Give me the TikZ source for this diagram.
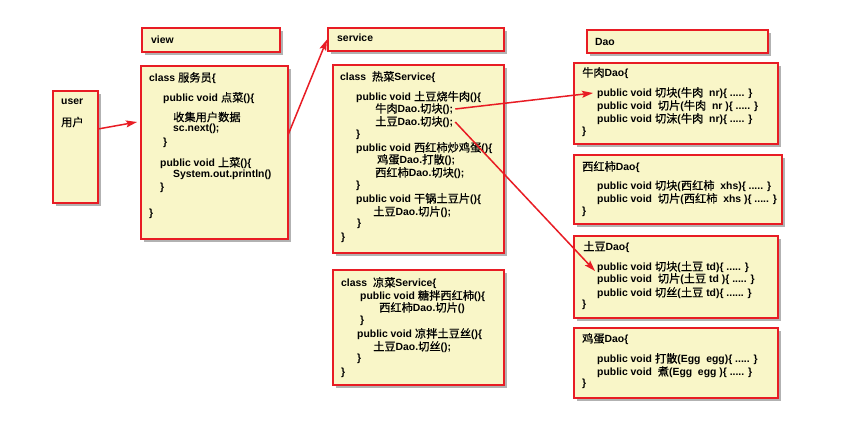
\documentclass[tikz,border=0pt]{standalone}
\usepackage{fontspec}
\setmainfont{Liberation Sans}
\newfontfamily\cjk{Noto Sans CJK SC}[Scale=1.08,FakeBold=0.6]
\usetikzlibrary{arrows.meta,shadows}
\newcommand\zh[1]{{\cjk\mdseries #1}}
\definecolor{boxfill}{RGB}{249,246,200}
\definecolor{boxred}{RGB}{232,28,36}
\begin{document}
\begin{tikzpicture}[x=1pt,y=-1pt,
  box/.style={draw=boxred,line width=2pt,fill=boxfill,rectangle,anchor=north west,inner sep=0pt,
    drop shadow={shadow xshift=2.5pt,shadow yshift=-2.5pt,fill=black,opacity=0.3}},
  code/.style={anchor=west,inner sep=0pt,font=\fontsize{10.4}{12.7}\selectfont\bfseries},
  arr/.style={draw=boxred,line width=1.5pt,-{Stealth[length=11pt,width=7pt,inset=2pt]}}]
\useasboundingbox[fill=white] (0,0) rectangle (862,424);
% boxes
\node[box,minimum width=45pt,minimum height=112pt] (buser) at (52,90) {};
\node[box,minimum width=138pt,minimum height=24pt] (bview) at (141,27) {};
\node[box,minimum width=147pt,minimum height=173pt] (bwaiter) at (140,65) {};
\node[box,minimum width=176pt,minimum height=23pt] (bservice) at (327,27) {};
\node[box,minimum width=171pt,minimum height=188pt] (bhot) at (332,64) {};
\node[box,minimum width=171pt,minimum height=115pt] (bcold) at (332,269) {};
\node[box,minimum width=181pt,minimum height=23pt] (bdao) at (586,29) {};
\node[box,minimum width=204pt,minimum height=81pt] (bniurou) at (573,62) {};
\node[box,minimum width=208pt,minimum height=69pt] (bxhs) at (573,154) {};
\node[box,minimum width=204pt,minimum height=82pt] (btudou) at (573,235) {};
\node[box,minimum width=204pt,minimum height=70pt] (bjidan) at (573,327) {};
% user / view / service / dao
\node[code] (u1) at (61,102) {user};
\node[code] (u2) at (61,122) {\zh{用户}};
\node[code] (v1) at (151,40) {view};
\node[code] (s1) at (337,38) {service};
\node[code] (d1) at (595,42) {Dao};
% waiter
\node[code] (w1) at (149,78) {class \zh{服务员}\{};
\node[code] (w2) at (163,98) {public void \zh{点菜}()\{};
\node[code] (w3) at (173,117) {\zh{收集用户数据}};
\node[code] (w4) at (173,129) {sc.next();};
\node[code] (w5) at (163,143) {\}};
\node[code] (w6) at (160,163) {public void \zh{上菜}()\{};
\node[code] (w7) at (173,175) {System.out.println()};
\node[code] (w8) at (160,188) {\}};
\node[code] (w9) at (149,214) {\}};
% hot service
\node[code] (h1) at (340,77) {class\ \ \zh{热菜}Service\{};
\node[code] (h2) at (356,97) {public void \zh{土豆烧牛肉}()\{};
\node[code] (h3) at (375,109) {\zh{牛肉}Dao.\zh{切块}();};
\node[code] (h4) at (375,122) {\zh{土豆}Dao.\zh{切块}();};
\node[code] (h5) at (356,135) {\}};
\node[code] (h6) at (356,148) {public void \zh{西红柿炒鸡蛋}()\{};
\node[code] (h7) at (377,160) {\zh{鸡蛋}Dao.\zh{打散}();};
\node[code] (h8) at (375,173) {\zh{西红柿}Dao.\zh{切块}();};
\node[code] (h9) at (356,186) {\}};
\node[code] (h10) at (356,199) {public void \zh{干锅土豆片}()\{};
\node[code] (h11) at (373,212) {\zh{土豆}Dao.\zh{切片}();};
\node[code] (h12) at (357,224) {\}};
\node[code] (h13) at (341,238) {\}};
% cold service
\node[code] (c1) at (341,283) {class\ \ \zh{凉菜}Service\{};
\node[code] (c2) at (360,296) {public void \zh{糖拌西红柿}()\{};
\node[code] (c3) at (379,308) {\zh{西红柿}Dao.\zh{切片}()};
\node[code] (c4) at (360,321) {\}};
\node[code] (c5) at (357,334) {public void \zh{凉拌土豆丝}()\{};
\node[code] (c6) at (373,347) {\zh{土豆}Dao.\zh{切丝}();};
\node[code] (c7) at (357,359) {\}};
\node[code] (c8) at (341,373) {\}};
% niurou dao
\node[code] (n0) at (582,73) {\zh{牛肉}Dao\{};
\node[code] (n1) at (597,93) {public void \zh{切块}(\zh{牛肉}\ \ nr)\{ ..... \}};
\node[code] (n2) at (597,106) {public void\ \ \zh{切片}(\zh{牛肉}\ \ nr )\{ ..... \}};
\node[code] (n3) at (597,119) {public void \zh{切沫}(\zh{牛肉}\ \ nr)\{ ..... \}};
\node[code] (n4) at (582,132) {\}};
% xhs dao
\node[code] (x0) at (582,167) {\zh{西红柿}Dao\{};
\node[code] (x1) at (597,186) {public void \zh{切块}(\zh{西红柿}\ \ xhs)\{ ..... \}};
\node[code] (x2) at (597,199) {public void\ \ \zh{切片}(\zh{西红柿}\ \ xhs )\{ ..... \}};
\node[code] (x3) at (582,212) {\}};
% tudou dao
\node[code] (t0) at (583,247) {\zh{土豆}Dao\{};
\node[code] (t1) at (597,267) {public void \zh{切块}(\zh{土豆} td)\{ ..... \}};
\node[code] (t2) at (597,279) {public void\ \ \zh{切片}(\zh{土豆} td )\{ ..... \}};
\node[code] (t3) at (597,293) {public void \zh{切丝}(\zh{土豆} td)\{ ...... \}};
\node[code] (t4) at (582,305) {\}};
% jidan dao
\node[code] (j0) at (582,339) {\zh{鸡蛋}Dao\{};
\node[code] (j1) at (597,359) {public void \zh{打散}(Egg\ \ egg)\{ ..... \}};
\node[code] (j2) at (597,372) {public void\ \ \zh{煮}(Egg\ \ egg )\{ ..... \}};
\node[code] (j3) at (582,384) {\}};
% arrows
\coordinate (a1s) at (98,129);
\coordinate (a1e) at (137,122);
\coordinate (a2s) at (288,135);
\draw[arr] (a1s) -- (a1e);
\draw[arr] (a2s) -- (bservice.west);
\draw[arr] ([xshift=2pt]h3.east) -- ([xshift=-4pt]n1.west);
\draw[arr] ([xshift=2pt]h4.east) -- ([xshift=-2pt,yshift=-4pt]t1.west);
\end{tikzpicture}
\end{document}
